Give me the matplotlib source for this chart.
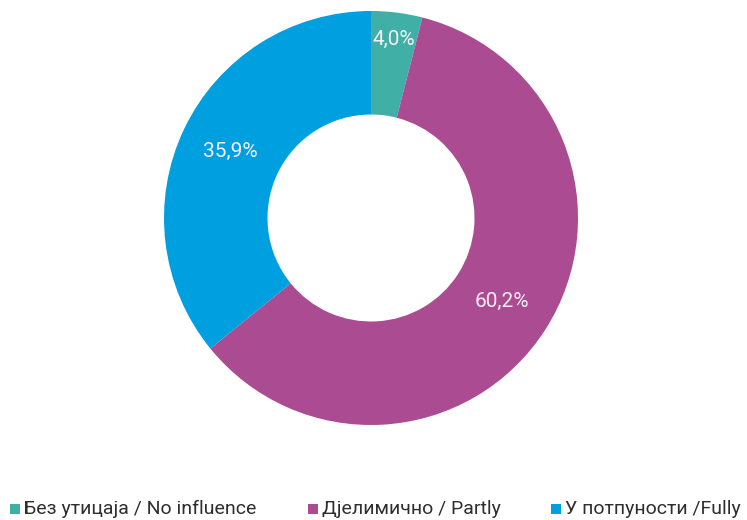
import matplotlib
matplotlib.use("Agg")
import matplotlib.pyplot as plt
from matplotlib.patches import Rectangle
import numpy as np

# Shares of responses
categories = ["Без утицаја / No influence", "Дјелимично / Partly", "У потпуности /Fully"]
shares = [4.0, 60.2, 35.9]
pct_labels = ["4,0%", "60,2%", "35,9%"]

colors = ["#40b0a6", "#ab4b91", "#009fdf"]
label_radius = [0.87, 0.75, 0.75]

plt.rcParams["font.family"] = ["Roboto", "DejaVu Sans"]

W, H = 747, 520
fig = plt.figure(figsize=(W / 100, H / 100), dpi=100)
ax = fig.add_axes([164 / W, 95 / H, 414 / W, 414 / H])

wedges, _ = ax.pie(
    shares,
    colors=colors,
    startangle=90,
    counterclock=False,
    radius=1.0,
    wedgeprops=dict(width=0.5, linewidth=0),
)

# Percent labels inside each ring segment
total = sum(shares)
angle = 90.0
for val, txt, r in zip(shares, pct_labels, label_radius):
    span = 360.0 * val / total
    mid = np.deg2rad(angle - span / 2)
    ax.text(r * np.cos(mid), r * np.sin(mid), txt, color="#f6f0f6",
            fontsize=15, fontweight="normal", ha="center", va="center")
    angle -= span

ax.set_xlim(-1, 1)
ax.set_ylim(-1, 1)
ax.set_aspect("equal")
ax.axis("off")

# Legend row along the bottom
legend_x = [10, 308, 551]
for x, c, name in zip(legend_x, colors, categories):
    fig.patches.append(Rectangle((x / W, 6 / H), 10 / W, 10 / H,
                                 transform=fig.transFigure, facecolor=c,
                                 edgecolor="none"))
    fig.text((x + 14) / W, 11 / H, name, fontsize=14, fontweight="normal",
             color="#2e2e2e", ha="left", va="center")

fig.savefig("out.png", dpi=100)
